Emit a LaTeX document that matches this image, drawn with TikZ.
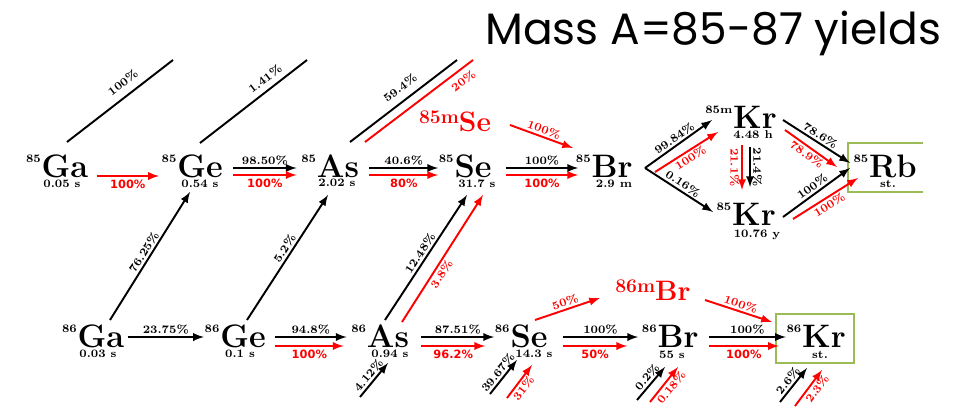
\documentclass[tikz,border=0pt]{standalone}
\usepackage{fontspec}
\newfontfamily\titlefont{Poppins}
\newfontfamily\pctfont{DejaVu Sans}
\usetikzlibrary{arrows,positioning}
\definecolor{boxgreen}{HTML}{9BBB59}
% mass number in front of the symbol, kept out of the node box
\newcommand{\iso}[2]{\llap{\raisebox{8pt}{\fontsize{6.5}{6.5}\selectfont #1}\hspace{0.5pt}}#2}
\newcommand{\isom}[2]{\raisebox{4pt}{\fontsize{11}{11}\selectfont #1}#2}

\begin{document}
\begin{tikzpicture}[x=0.02cm, y=-0.02cm, >=latex,
  nuc/.style={anchor=base, inner sep=0pt, font=\fontsize{18.5}{18.5}\selectfont\bfseries},
  meta/.style={anchor=base, inner sep=0pt, text=red, font=\fontsize{16}{16}\selectfont\bfseries},
  hl/.style={anchor=base, inner sep=0pt, font=\fontsize{6.5}{6.5}\selectfont\bfseries},
  pct/.style={inner sep=1pt, font=\fontsize{6.5}{6.5}\selectfont\bfseries},
  rpct/.style={pct, text=red},
  ypct/.style={inner sep=1.5pt, text=red, font=\pctfont\fontsize{6.5}{6.5}\selectfont\bfseries},
  blk/.style={->, line width=1.1pt},
  rd/.style={->, line width=1.1pt, red},
  feed/.style={line width=1.1pt},
  stable/.style={draw=boxgreen, line width=0.8pt}
]
\useasboundingbox (0,0) rectangle (955,406);

\node[anchor=base west, inner sep=0pt, font=\titlefont\fontsize{25}{25}\selectfont] (title) at (485,44) {Mass A=85-87 yields};

% A = 85 chain
\node[nuc] (ga85) at (65,177) {\iso{85}{Ga}};
\node[nuc] (ge85) at (200,177) {\iso{85}{Ge}};
\node[nuc] (as85) at (338,177) {\iso{85}{As}};
\node[nuc] (se85) at (473,177) {\iso{85}{Se}};
\node[nuc] (br85) at (612,177) {\iso{85}{Br}};
\node[nuc] (kr85m) at (755,128) {\iso{85m}{Kr}};
\node[nuc] (kr85) at (754,225) {\iso{85}{Kr}};
\node[nuc] (rb85) at (893,177) {\iso{85}{Rb}};
\node[meta] (se85m) at (455,131) {\isom{85m}{Se}};

\node[hl] (ga85t) at (62,187) {0.05 s};
\node[hl] (ge85t) at (200,187) {0.54 s};
\node[hl] (as85t) at (337,186) {2.02 s};
\node[hl] (se85t) at (477,187) {31.7 s};
\node[hl] (br85t) at (614,187) {2.9 m};
\node[hl] (kr85mt) at (753,138) {4.48 h};
\node[hl] (kr85t) at (757,237) {10.76 y};
\node[hl] (rb85t) at (888,187) {st.};

% A = 86 chain
\node[nuc] (ga86) at (101,347) {\iso{86}{Ga}};
\node[nuc] (ge86) at (243,347) {\iso{86}{Ge}};
\node[nuc] (as86) at (388,347) {\iso{86}{As}};
\node[nuc] (se86) at (529,347) {\iso{86}{Se}};
\node[nuc] (br86) at (678,347) {\iso{86}{Br}};
\node[nuc] (kr86) at (824,347) {\iso{86}{Kr}};
\node[meta] (br86m) at (653,300) {\isom{86m}{Br}};

\node[hl] (ga86t) at (98,357) {0.03 s};
\node[hl] (ge86t) at (240,357) {0.1 s};
\node[hl] (as86t) at (390,357) {0.94 s};
\node[hl] (se86t) at (534,357) {14.3 s};
\node[hl] (br86t) at (672,358) {55 s};
\node[hl] (kr86t) at (820,358) {st.};

% stable end points
\draw[stable] ([shift={(30,-34)}]rb85.base) -- ([shift={(-45,-34)}]rb85.base)
  -- ([shift={(-45,15)}]rb85.base) -- ([shift={(30,15)}]rb85.base);
\draw[stable] ([shift={(-48,-33)}]kr86.base) rectangle ([shift={(30,16)}]kr86.base);

% horizontal decays, A = 85
\draw[rd] ([shift={(8,-1)}]ga85.base east) -- node[ypct, below] {100\%} ([shift={(-18,-1)}]ge85.base west);
\draw[blk] ([shift={(10,-9)}]ge85.base east) -- node[pct, above] {98.50\%} ([shift={(-20,-9)}]as85.base west);
\draw[rd] ([shift={(10,-2)}]ge85.base east) -- node[ypct, below] {100\%} ([shift={(-20,-2)}]as85.base west);
\draw[blk] ([shift={(10,-9)}]as85.base east) -- node[pct, above] {40.6\%} ([shift={(-16,-9)}]se85.base west);
\draw[rd] ([shift={(10,-2)}]as85.base east) -- node[ypct, below] {80\%} ([shift={(-16,-2)}]se85.base west);
\draw[blk] ([shift={(14,-9)}]se85.base east) -- node[pct, above] {100\%} ([shift={(-13,-9)}]br85.base west);
\draw[rd] ([shift={(14,-2)}]se85.base east) -- node[ypct, below] {100\%} ([shift={(-13,-2)}]br85.base west);

% feeding lines off the top
\coordinate (ga85up) at (173,60);
\coordinate (ge85up) at (307,60);
\coordinate (as85up) at (457,60);
\coordinate (as85upr) at (473,60);
\draw[feed] ([shift={(2,-35)}]ga85.base) -- node[pct, above=3pt, sloped, pos=0.6] {100\%} (ga85up);
\draw[feed] ([shift={(0,-34)}]ge85.base) -- node[pct, above=2pt, sloped, pos=0.67] {1.41\%} (ge85up);
\draw[feed] ([shift={(12,-35)}]as85.base) -- node[pct, above=3pt, sloped, pos=0.54] {59.4\%} (as85up);
\draw[feed, red] ([shift={(27,-35)}]as85.base) -- node[rpct, below=2pt, sloped, pos=0.85] {20\%} (as85upr);

\draw[rd] ([shift={(55,-6)}]se85m.base) -- node[rpct, above, sloped] {100\%} ([shift={(-39,-29)}]br85.base);

% Br -> Kr -> Rb
\draw[blk] ([shift={(33,-9)}]br85.base) -- node[pct, above, sloped] {99.84\%} ([shift={(-43,-8)}]kr85m.base);
\draw[rd] ([shift={(43,-5)}]br85.base) -- node[rpct, below, sloped] {100\%} ([shift={(-37,4)}]kr85m.base);
\draw[blk] ([shift={(33,-9)}]br85.base) -- node[pct, above, sloped] {0.16\%} ([shift={(-41,-13)}]kr85.base);
\draw[rd] ([shift={(-13,17)}]kr85m.base) -- node[rpct, below, sloped] {21.1\%} ([shift={(-12,-35)}]kr85.base);
\draw[blk] ([shift={(-5,19)}]kr85m.base) -- node[pct, above, sloped] {21.4\%} ([shift={(-4,-38)}]kr85.base);
\draw[blk] ([shift={(28,-8)}]kr85m.base) -- node[pct, above, sloped] {78.6\%} ([shift={(-43,-14)}]rb85.base);
\draw[rd] ([shift={(30,2)}]kr85m.base) -- node[rpct, below, sloped] {78.9\%} ([shift={(-56,-10)}]rb85.base);
\draw[blk] ([shift={(29,-8)}]kr85.base) -- node[pct, above, sloped] {100\%} ([shift={(-43,-9)}]rb85.base);
\draw[rd] ([shift={(39,-6)}]kr85.base) -- node[rpct, below, sloped] {100\%} ([shift={(-35,1)}]rb85.base);

% horizontal decays, A = 86
\draw[blk] ([shift={(3,-10)}]ga86.base east) -- node[pct, above] {23.75\%} ([shift={(-16,-10)}]ge86.base west);
\draw[blk] ([shift={(9,-10)}]ge86.base east) -- node[pct, above] {94.8\%} ([shift={(-20,-10)}]as86.base west);
\draw[rd] ([shift={(9,-1)}]ge86.base east) -- node[ypct, below] {100\%} ([shift={(-23,-1)}]as86.base west);
\draw[blk] ([shift={(12,-10)}]as86.base east) -- node[pct, above] {87.51\%} ([shift={(-16,-10)}]se86.base west);
\draw[rd] ([shift={(12,-1)}]as86.base east) -- node[ypct, below] {96.2\%} ([shift={(-25,-1)}]se86.base west);
\draw[blk] ([shift={(15,-10)}]se86.base east) -- node[pct, above] {100\%} ([shift={(-19,-10)}]br86.base west);
\draw[rd] ([shift={(15,-1)}]se86.base east) -- node[ypct, below] {50\%} ([shift={(-30,-1)}]br86.base west);
\draw[blk] ([shift={(10,-10)}]br86.base east) -- node[pct, above] {100\%} ([shift={(-16,-10)}]kr86.base west);
\draw[rd] ([shift={(10,-1)}]br86.base east) -- node[ypct, below] {100\%} ([shift={(-23,-1)}]kr86.base west);

\draw[rd] ([shift={(6,-27)}]se86.base) -- node[rpct, above, sloped] {50\%} ([shift={(-53,-2)}]br86m.base);
\draw[rd] ([shift={(52,0)}]br86m.base) -- node[rpct, above, sloped] {100\%} ([shift={(-52,-25)}]kr86.base);

% delayed neutron branches
\draw[blk] ([shift={(9,-27)}]ga86.base) -- node[pct, above, sloped] {76.25\%} ([shift={(-10,15)}]ge85.base);
\draw[blk] ([shift={(4,-27)}]ge86.base) -- node[pct, above, sloped, pos=0.54] {5.2\%} ([shift={(-10,18)}]as85.base);
\draw[blk] ([shift={(-3,-27)}]as86.base) -- node[pct, above, sloped] {12.48\%} ([shift={(-6,18)}]se85.base);
\draw[rd] ([shift={(14,-25)}]as86.base) -- node[rpct, below, sloped, pos=0.41] {3.8\%} ([shift={(10,18)}]se85.base);

% branches coming from below
\coordinate (as86b) at (360,397);
\coordinate (se86b) at (490,394);
\coordinate (se86r) at (507,398);
\coordinate (br86b) at (637,400);
\coordinate (br86r) at (650,402);
\coordinate (kr86b) at (780,402);
\coordinate (kr86r) at (795,406);
\draw[blk] (as86b) -- node[pct, above, sloped] {4.12\%} ([shift={(0,16)}]as86.base);
\draw[blk] (se86b) -- node[pct, above, sloped] {39.67\%} ([shift={(-12,13)}]se86.base);
\draw[rd] (se86r) -- node[rpct, below, sloped, pos=0.42] {31\%} ([shift={(3,18)}]se86.base);
\draw[blk] (br86b) -- node[pct, above, sloped, pos=0.55] {0.2\%} ([shift={(-13,20)}]br86.base);
\draw[rd] (br86r) -- node[rpct, below, sloped, pos=0.55] {0.18\%} ([shift={(0,20)}]br86.base);
\draw[blk] (kr86b) -- node[pct, above, sloped, pos=0.5] {2.6\%} ([shift={(-17,21)}]kr86.base);
\draw[rd] (kr86r) -- node[rpct, below, sloped, pos=0.6] {2.3\%} ([shift={(-2,23)}]kr86.base);

\end{tikzpicture}
\end{document}
